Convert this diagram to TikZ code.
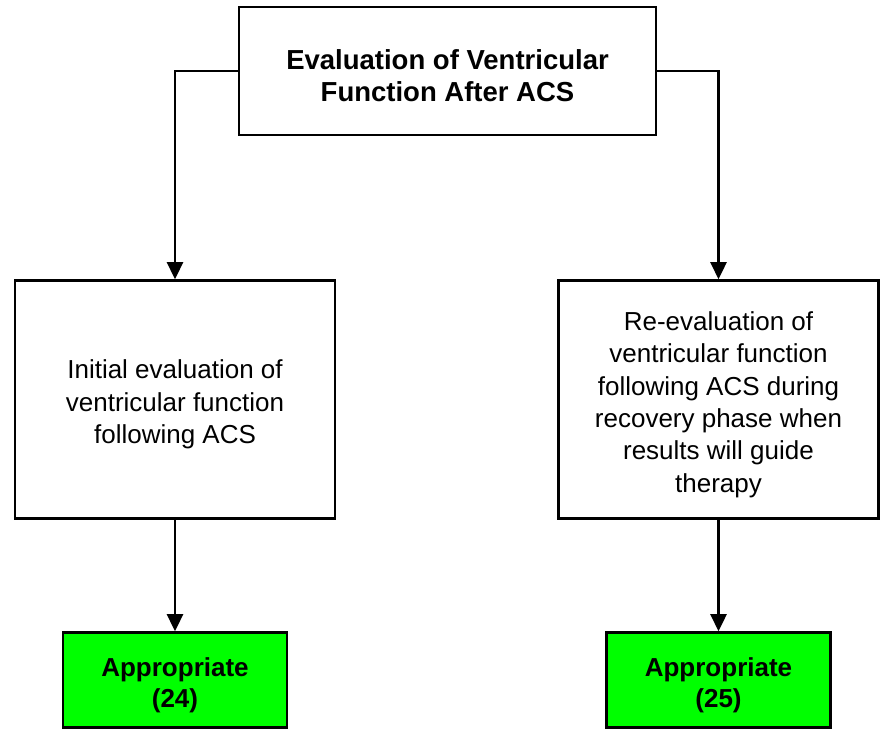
\documentclass[tikz,border=0pt]{standalone}
\usepackage{fontspec}
\setmainfont{Liberation Sans}
\usetikzlibrary{arrows.meta}
\definecolor{okgreen}{RGB}{0,255,0}
\begin{document}
\begin{tikzpicture}[x=1pt,y=-1pt,
  box/.style={draw=black,line width=2.6pt,fill=white,inner sep=0pt},
  okbox/.style={box,fill=okgreen},
  inside/.style={align=center,inner sep=0pt,yshift=-5pt},
  headtxt/.style={inside,font=\fontsize{27.5}{32}\selectfont\bfseries},
  txt/.style={inside,font=\fontsize{26}{32.4}\selectfont},
  oktxt/.style={inside,font=\fontsize{26}{31}\selectfont\bfseries},
  link/.style={line width=2.6pt,-{Triangle[width=16pt,length=17pt]}}]
\useasboundingbox (0,0) rectangle (880,729);
% boxes, with their text set a little below the centre
\node[box,minimum width=417pt,minimum height=128pt,
  label={[headtxt]center:Evaluation of Ventricular\\Function After ACS}]
  (top) at (447.5,71) {};
\node[box,minimum width=320pt,minimum height=238pt,
  label={[txt]center:Initial evaluation of\\ventricular function\\following ACS}]
  (left) at (175,399.5) {};
\node[box,minimum width=320pt,minimum height=238pt,
  label={[txt]center:Re-evaluation of\\ventricular function\\following ACS during\\recovery phase when\\results will guide\\therapy}]
  (right) at (718.5,399.5) {};
\node[okbox,minimum width=224pt,minimum height=95pt,
  label={[oktxt]center:Appropriate\\(24)}] (okl) at (175,680) {};
\node[okbox,minimum width=224pt,minimum height=95pt,
  label={[oktxt]center:Appropriate\\(25)}] (okr) at (718.5,680) {};
% connectors
\draw[link] (top.west) -| (left.north);
\draw[link] (top.east) -| (right.north);
\draw[link] (left.south) -- (okl.north);
\draw[link] (right.south) -- (okr.north);
\end{tikzpicture}
\end{document}
